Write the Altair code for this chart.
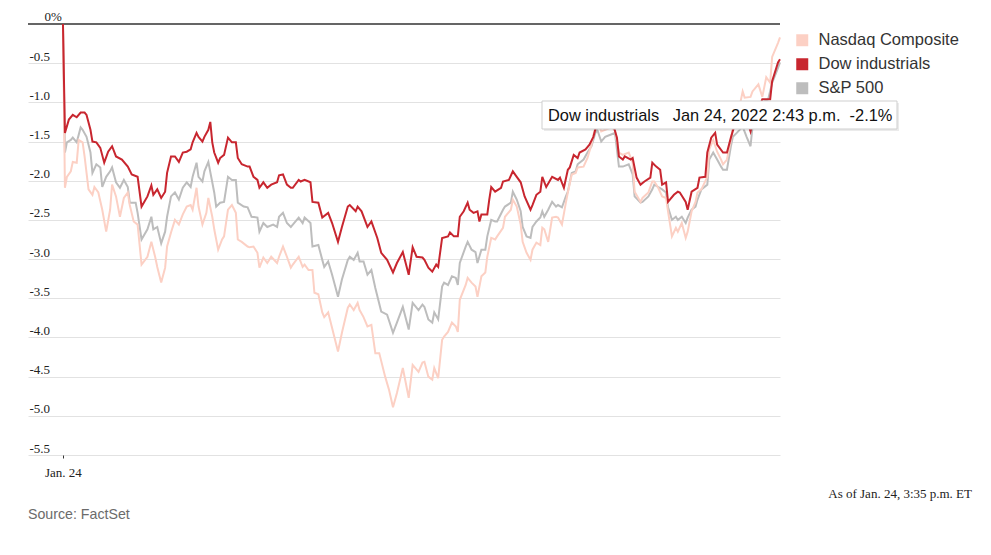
import altair as alt
import pandas as pd

# ---------------- data (minutes after 9:30 a.m., % change) ----------------
series_names = ["Nasdaq Composite", "Dow industrials", "S&P 500"]
series_colors = ["#fcd0c4", "#c8262f", "#bdbdbd"]

dow = [
    (0, 0.00), (1, -1.39), (3, -1.22), (5, -1.16), (7, -1.19), (9, -1.13), (11, -1.13), (12, -1.16),
    (14, -1.35), (15, -1.50), (17, -1.51), (19, -1.58), (21, -1.77), (23, -1.63), (25, -1.56), (27, -1.69),
    (30, -1.73), (33, -1.82), (35, -1.92), (38, -1.95), (40, -2.33), (43, -2.20), (45, -2.06), (46, -2.18),
    (48, -2.11), (50, -2.22), (52, -2.14), (53, -1.90), (55, -1.69), (57, -1.69), (59, -1.76), (61, -1.64),
    (63, -1.63), (65, -1.60), (66, -1.51), (68, -1.39), (69, -1.44), (71, -1.50), (72, -1.44), (74, -1.35),
    (75, -1.25), (76, -1.51), (77, -1.64), (79, -1.77), (80, -1.71), (82, -1.67), (84, -1.45), (86, -1.51),
    (88, -1.51), (89, -1.71), (91, -1.79), (94, -1.82), (95, -1.82), (97, -1.95), (99, -1.99), (100, -2.09),
    (102, -2.02), (104, -2.09), (106, -2.05), (109, -2.02), (110, -1.93), (112, -1.92), (114, -2.05), (116, -2.09),
    (117, -2.09), (120, -1.99), (121, -2.01), (123, -1.99), (126, -2.02), (127, -2.27), (130, -2.28), (132, -2.47),
    (135, -2.41), (137, -2.54), (140, -2.78), (142, -2.59), (145, -2.33), (146, -2.31), (149, -2.39), (150, -2.33),
    (152, -2.39), (155, -2.59), (157, -2.52), (160, -2.73), (162, -2.92), (165, -3.01), (168, -3.17), (170, -3.05),
    (173, -2.91), (176, -3.20), (178, -2.85), (180, -2.97), (183, -2.98), (184, -3.01), (186, -3.11), (188, -3.16),
    (190, -3.07), (191, -3.10), (193, -2.73), (196, -2.71), (197, -2.66), (199, -2.71), (201, -2.71), (202, -2.46),
    (204, -2.39), (206, -2.28), (207, -2.37), (209, -2.41), (211, -2.39), (212, -2.52), (213, -2.43), (216, -2.43),
    (217, -2.24), (218, -2.08), (220, -2.14), (223, -2.09), (224, -2.01), (227, -1.99), (229, -1.88), (231, -1.95),
    (233, -2.02), (235, -2.20), (238, -2.37), (239, -2.31), (241, -2.18), (243, -2.14), (244, -1.95), (246, -2.08),
    (249, -1.95), (252, -1.99), (253, -1.96), (255, -2.09), (257, -1.86), (258, -1.83), (260, -1.67), (262, -1.71),
    (263, -1.64), (266, -1.60), (268, -1.54), (270, -1.44), (272, -1.25), (274, -1.25), (277, -1.31), (280, -1.28),
    (282, -1.45), (283, -1.69), (285, -1.73), (286, -1.69), (289, -1.73), (290, -1.71), (292, -1.96), (294, -2.05),
    (296, -2.01), (299, -1.96), (300, -1.77), (302, -1.82), (304, -1.86), (305, -2.05), (307, -2.02), (308, -2.27),
    (311, -2.18), (313, -2.14), (314, -2.15), (317, -2.27), (318, -2.37), (320, -2.14), (323, -2.09), (324, -1.96),
    (327, -1.95), (328, -1.64), (330, -1.45), (332, -1.39), (333, -1.54), (336, -1.64), (338, -1.64), (340, -1.45),
    (342, -1.28), (345, -1.19), (347, -1.12), (350, -1.37), (352, -1.16), (354, -1.09), (356, -0.96), (360, -0.96),
    (361, -0.73), (364, -0.49), (365, -0.45),
]

sp500 = [
    (0, 0.00), (1, -1.64), (2, -1.51), (4, -1.48), (5, -1.45), (7, -1.51), (9, -1.32), (10, -1.35),
    (12, -1.44), (14, -1.64), (15, -1.90), (17, -1.79), (19, -1.83), (20, -2.08), (22, -1.95), (24, -1.88),
    (25, -1.83), (27, -2.02), (29, -2.09), (31, -1.99), (33, -2.08), (34, -2.28), (37, -2.28), (38, -2.41),
    (40, -2.75), (43, -2.62), (45, -2.46), (46, -2.62), (48, -2.59), (50, -2.80), (52, -2.65), (53, -2.46),
    (55, -2.20), (57, -2.15), (59, -2.24), (61, -2.09), (63, -2.02), (65, -2.08), (66, -1.95), (68, -1.77),
    (69, -1.95), (71, -2.01), (72, -1.88), (74, -1.76), (76, -2.02), (77, -2.15), (78, -2.33), (80, -2.28),
    (82, -2.27), (84, -1.95), (86, -1.99), (88, -1.99), (89, -2.28), (92, -2.33), (94, -2.34), (96, -2.46),
    (99, -2.47), (100, -2.65), (102, -2.54), (104, -2.59), (107, -2.56), (109, -2.59), (110, -2.46), (112, -2.41),
    (114, -2.54), (116, -2.59), (117, -2.56), (120, -2.47), (122, -2.54), (123, -2.47), (126, -2.54), (127, -2.84),
    (130, -2.82), (132, -3.01), (133, -3.10), (135, -3.03), (137, -3.20), (140, -3.48), (142, -3.26), (145, -3.01),
    (146, -2.97), (148, -3.01), (150, -2.92), (151, -3.03), (153, -3.03), (155, -3.20), (157, -3.14), (159, -3.37),
    (162, -3.67), (165, -3.71), (168, -3.94), (170, -3.81), (173, -3.61), (176, -3.90), (178, -3.56), (181, -3.65),
    (183, -3.58), (184, -3.61), (186, -3.77), (188, -3.81), (189, -3.68), (191, -3.77), (193, -3.35), (194, -3.30),
    (196, -3.33), (198, -3.22), (200, -3.24), (201, -3.33), (202, -3.05), (205, -2.84), (206, -2.78), (208, -2.88),
    (210, -2.91), (211, -3.05), (213, -2.88), (215, -2.88), (216, -2.71), (218, -2.50), (220, -2.52), (221, -2.52),
    (224, -2.37), (225, -2.33), (228, -2.28), (229, -2.14), (231, -2.24), (233, -2.39), (234, -2.59), (236, -2.71),
    (238, -2.73), (239, -2.59), (241, -2.52), (243, -2.47), (244, -2.39), (245, -2.46), (247, -2.37), (249, -2.27),
    (251, -2.33), (252, -2.31), (254, -2.34), (256, -2.20), (257, -2.14), (259, -1.90), (261, -1.88), (262, -1.79),
    (265, -1.73), (267, -1.64), (269, -1.56), (271, -1.39), (272, -1.35), (274, -1.50), (276, -1.44), (279, -1.41),
    (281, -1.39), (283, -1.82), (285, -1.82), (288, -1.79), (290, -1.92), (291, -2.20), (294, -2.28), (295, -2.27),
    (298, -2.20), (300, -2.11), (301, -2.05), (303, -2.08), (305, -2.11), (307, -2.15), (308, -2.34), (310, -2.50),
    (312, -2.46), (313, -2.50), (315, -2.46), (317, -2.54), (318, -2.47), (320, -2.37), (322, -2.33), (323, -2.24),
    (325, -2.11), (328, -2.05), (329, -1.73), (331, -1.64), (333, -1.73), (335, -1.82), (336, -1.86), (338, -1.86),
    (340, -1.56), (341, -1.44), (343, -1.39), (346, -1.31), (348, -1.44), (350, -1.56), (351, -1.31), (354, -1.18),
    (356, -1.00), (359, -0.96), (361, -0.75), (364, -0.56), (365, -0.49),
]

nasdaq = [
    (0, 0.00), (1, -2.09), (2, -1.95), (4, -1.88), (5, -1.76), (7, -1.77), (8, -1.48), (10, -1.51),
    (11, -1.69), (13, -2.11), (15, -2.18), (16, -2.08), (18, -2.15), (20, -2.37), (22, -2.65), (24, -2.37),
    (25, -2.05), (27, -2.20), (29, -2.46), (31, -2.22), (33, -2.15), (34, -2.31), (36, -2.52), (38, -2.56),
    (40, -3.07), (43, -2.97), (45, -2.78), (47, -2.98), (48, -3.10), (50, -3.30), (52, -3.11), (53, -2.84),
    (55, -2.66), (57, -2.50), (59, -2.56), (61, -2.43), (63, -2.33), (65, -2.31), (66, -2.37), (68, -2.09),
    (69, -2.33), (71, -2.56), (73, -2.41), (74, -2.22), (76, -2.46), (77, -2.62), (79, -2.88), (81, -2.75),
    (82, -2.71), (84, -2.37), (86, -2.31), (88, -2.41), (89, -2.75), (91, -2.78), (94, -2.84), (95, -2.85),
    (97, -2.84), (99, -2.92), (100, -3.11), (102, -2.98), (104, -3.05), (106, -2.97), (109, -3.05), (110, -2.97),
    (112, -2.84), (114, -2.97), (116, -3.11), (117, -3.07), (120, -2.97), (122, -3.10), (123, -3.07), (125, -3.14),
    (127, -3.14), (128, -3.43), (130, -3.45), (132, -3.68), (133, -3.74), (135, -3.68), (137, -3.88), (140, -4.18),
    (142, -3.94), (145, -3.62), (146, -3.58), (148, -3.65), (150, -3.56), (151, -3.65), (153, -3.74), (155, -3.86),
    (157, -3.84), (159, -4.20), (161, -4.20), (164, -4.50), (166, -4.67), (168, -4.89), (170, -4.71), (173, -4.39),
    (176, -4.77), (178, -4.35), (181, -4.44), (183, -4.32), (184, -4.31), (186, -4.50), (188, -4.54), (189, -4.39),
    (191, -4.52), (193, -4.03), (194, -3.99), (196, -3.93), (198, -3.81), (200, -3.86), (201, -3.93), (202, -3.52),
    (205, -3.33), (206, -3.24), (208, -3.30), (210, -3.35), (211, -3.48), (213, -3.22), (215, -3.17), (216, -2.97),
    (218, -2.73), (220, -2.75), (221, -2.71), (224, -2.60), (225, -2.46), (228, -2.37), (229, -2.24), (231, -2.33),
    (233, -2.56), (234, -2.78), (236, -2.92), (238, -3.01), (239, -2.88), (241, -2.79), (243, -2.82), (244, -2.60),
    (245, -2.62), (247, -2.78), (249, -2.47), (251, -2.46), (252, -2.47), (254, -2.56), (256, -2.28), (257, -2.15),
    (259, -1.92), (261, -1.90), (262, -1.83), (265, -1.82), (267, -1.71), (269, -1.54), (271, -1.31), (272, -1.22),
    (274, -1.37), (276, -1.35), (279, -1.32), (281, -1.35), (283, -1.64), (285, -1.67), (288, -1.64), (290, -1.77),
    (291, -2.14), (294, -2.27), (295, -2.22), (298, -2.15), (300, -2.01), (301, -2.01), (303, -2.09), (305, -2.20),
    (307, -2.22), (308, -2.39), (310, -2.71), (312, -2.60), (313, -2.65), (315, -2.54), (317, -2.73), (318, -2.65),
    (320, -2.39), (322, -2.27), (323, -2.15), (325, -2.11), (328, -1.95), (329, -1.60), (331, -1.48), (333, -1.63),
    (335, -1.73), (336, -1.79), (338, -1.73), (340, -1.48), (341, -1.31), (343, -1.22), (346, -0.86), (347, -0.94),
    (350, -0.93), (351, -0.86), (354, -0.77), (356, -0.93), (358, -0.68), (360, -0.75), (361, -0.42), (364, -0.24),
    (365, -0.17),
]

y_ticks = [-5.5, -5.0, -4.5, -4.0, -3.5, -3.0, -2.5, -2.0, -1.5, -1.0, -0.5]
x_ticks = [0]
x_tick_label = "Jan. 24"
zero_label = "0%"
tooltip_text = "Dow industrials\u00a0\u00a0\u00a0Jan 24, 2022 2:43 p.m.\u00a0\u00a0-2.1%"
asof_text = "As of Jan. 24, 3:35 p.m. ET"
source_text = "Source: FactSet"

# ---------------- build table ----------------
rows = []
for name, pts in [("Nasdaq Composite", nasdaq), ("Dow industrials", dow), ("S&P 500", sp500)]:
    for m, v in pts:
        rows.append({"series": name, "minute": m, "pct": v})
df = pd.DataFrame(rows)

W, H = 752, 431
SERIF = "Liberation Serif"
SANS = "Liberation Sans"

x_scale = alt.Scale(domain=[-17.8, 365], nice=False, zero=False)
y_scale = alt.Scale(domain=[-5.5, 0], nice=False, zero=False)
color_scale = alt.Scale(domain=series_names, range=series_colors)

x_axis = alt.Axis(
    values=x_ticks, labelExpr=f"'{x_tick_label}'", grid=False, domain=False,
    ticks=True, tickSize=3, tickColor="#333", tickWidth=1,
    labelFont=SERIF, labelFontSize=13, labelColor="#222", labelPadding=8, title=None,
)
y_axis = alt.Axis(
    values=y_ticks, orient="left",
    labelExpr="replace(format(datum.value, '.1f'), '\u2212', '-')",
    labelAlign="left", labelBaseline="alphabetic", labelPadding=-1, labelOffset=-3,
    ticks=False, domain=False, grid=True, gridColor="#e2e2e2", gridWidth=1,
    labelFont=SERIF, labelFontSize=13, labelColor="#222", title=None,
)
# square legend swatches: a small square whose thick stroke fills it
legend = alt.Legend(
    title=None, orient="none", legendX=766, legendY=8,
    symbolType="square", symbolSize=36, symbolStrokeWidth=6, symbolOpacity=1,
    labelFont=SANS, labelFontSize=16.5, labelColor="#333", labelOffset=8,
    rowPadding=-7.5,
)

base = alt.Chart(df)

zero_rule = base.mark_rule(color="#666", strokeWidth=1.5).encode(y=alt.datum(0))


def line_layer(name):
    return base.transform_filter(alt.datum.series == name).mark_line(strokeWidth=2).encode(
        x=alt.X("minute:Q", scale=x_scale, axis=x_axis),
        y=alt.Y("pct:Q", scale=y_scale, axis=y_axis),
        color=alt.Color("series:N", scale=color_scale, legend=legend),
    )


zero_text = alt.Chart(pd.DataFrame({"t": [zero_label]})).mark_text(
    font=SERIF, fontSize=13, color="#222", align="right", baseline="alphabetic", dx=-1, dy=-3
).encode(x=alt.datum(0), y=alt.datum(0), text="t:N")

tip_df = pd.DataFrame({"t": [tooltip_text]})
tip_shadow = alt.Chart(tip_df).mark_rect(fill="#000", opacity=0.08).encode(
    x=alt.value(516), x2=alt.value(871), y=alt.value(79), y2=alt.value(107)
)
tip_box = alt.Chart(tip_df).mark_rect(fill="#fff", stroke="#cfcfcf", strokeWidth=1).encode(
    x=alt.value(514), x2=alt.value(869), y=alt.value(77), y2=alt.value(105)
)
tip_text = alt.Chart(tip_df).mark_text(
    font=SANS, fontSize=16.4, color="#111", align="left", baseline="alphabetic"
).encode(x=alt.value(520), y=alt.value(97), text="t:N")

asof = alt.Chart(pd.DataFrame({"t": [asof_text]})).mark_text(
    font=SERIF, fontSize=13, color="#222", align="right", baseline="alphabetic"
).encode(x=alt.value(944), y=alt.value(474), text="t:N")

source = alt.Chart(pd.DataFrame({"t": [source_text]})).mark_text(
    font=SANS, fontSize=14.2, color="#6b6b6b", align="left", baseline="alphabetic"
).encode(x=alt.value(0), y=alt.value(495), text="t:N")

chart = alt.layer(
    zero_rule,
    line_layer("S&P 500"),
    line_layer("Nasdaq Composite"),
    line_layer("Dow industrials"),
    zero_text,
    tip_shadow, tip_box, tip_text,
    asof, source,
).properties(
    width=W, height=H,
    padding={"left": 28, "top": 24, "right": 211, "bottom": 100},
    autosize=alt.AutoSizeParams(type="none"),
    background="#ffffff",
).configure_view(stroke=None)

chart.save("out.html", embed_options={"renderer": "svg", "actions": False})
